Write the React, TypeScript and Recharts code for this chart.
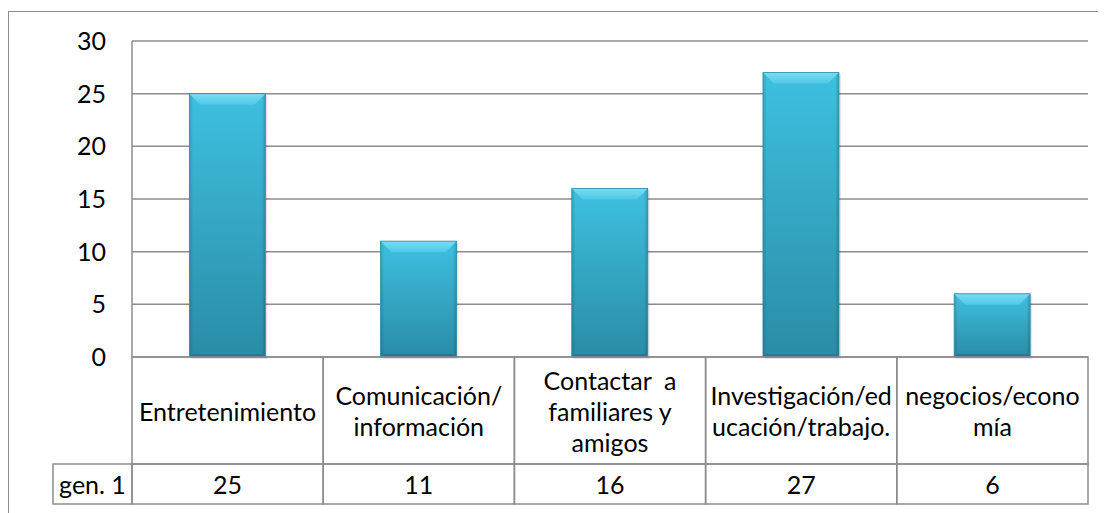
import { Bar, BarChart, CartesianGrid, XAxis, YAxis } from "recharts";

const categories = [
  "Entretenimiento",
  "Comunicación/\ninformación",
  "Contactar  a\nfamiliares y\namigos",
  "Investigación/ed\nucación/trabajo.",
  "negocios/econo\nmía",
];
const seriesName = "gen. 1";
const values = [25, 11, 16, 27, 6];
const yTicks = [0, 5, 10, 15, 20, 25, 30];

const W = 1097;
const H = 501;
const AXIS_H = 156;
const margin = { top: 29, right: 18, bottom: 0, left: 0 };
const Y_AXIS_W = 123;
const BAND = (W - margin.right - Y_AXIS_W) / categories.length;
const HEAD_H = 107;
const ROW_H = 40;
const LEGEND_W = 79;
const FONT = "Lato, Carlito, Calibri, sans-serif";
const FS = 25;
const LINE = "#8c8c8c";

const data = categories.map((name, i) => ({ name, value: values[i], index: i }));

function TableTick(props: any) {
  const { x, y, payload } = props;
  const idx = payload.index ?? 0;
  const left = x - BAND / 2;
  const lines = String(payload.value).split("\n");
  const lineGap = 31;
  const midY = y + HEAD_H / 2;
  const firstY = midY - ((lines.length - 1) * lineGap) / 2;
  return (
    <g>
      <rect x={left} y={y} width={BAND} height={HEAD_H} fill="none" stroke={LINE} strokeWidth={1.5} />
      <rect x={left} y={y + HEAD_H} width={BAND} height={ROW_H} fill="none" stroke={LINE} strokeWidth={1.5} />
      {lines.map((ln, i) => (
        <text
          key={i}
          x={x}
          y={firstY + i * lineGap}
          textAnchor="middle"
          dominantBaseline="central"
          fontFamily={FONT}
          fontSize={FS}
          fill="#000"
          style={{ whiteSpace: "pre" }}
        >
          {ln}
        </text>
      ))}
      <text
        x={x}
        y={y + HEAD_H + ROW_H / 2}
        textAnchor="middle"
        dominantBaseline="central"
        fontFamily={FONT}
        fontSize={FS}
        fill="#000"
      >
        {values[idx]}
      </text>
      {idx === 0 && (
        <g>
          <rect
            x={left - LEGEND_W}
            y={y + HEAD_H}
            width={LEGEND_W}
            height={ROW_H}
            fill="none"
            stroke={LINE}
            strokeWidth={1.5}
          />
          <text
            x={left - LEGEND_W / 2}
            y={y + HEAD_H + ROW_H / 2}
            textAnchor="middle"
            dominantBaseline="central"
            fontFamily={FONT}
            fontSize={FS}
            fill="#000"
          >
            {seriesName}
          </text>
        </g>
      )}
    </g>
  );
}

// bevelled bar like the Office 2007 style
function BevelBar(props: any) {
  const { x, y, width, height } = props;
  if (!height || height <= 0) return null;
  const b = Math.min(11, height / 3);
  const s = 3;
  return (
    <g>
      <defs>
        <linearGradient id="barBody" x1="0" x2="0" y1="0" y2="1">
          <stop offset="0%" stopColor="#3ec0e0" />
          <stop offset="100%" stopColor="#2a8ca6" />
        </linearGradient>
        <linearGradient id="barTop" x1="0" x2="0" y1="0" y2="1">
          <stop offset="0%" stopColor="#7bdcf2" />
          <stop offset="100%" stopColor="#4fc8e6" />
        </linearGradient>
        <linearGradient id="barSide" x1="0" x2="1" y1="0" y2="0">
          <stop offset="0%" stopColor="#000" stopOpacity={0.14} />
          <stop offset="5%" stopColor="#000" stopOpacity={0} />
          <stop offset="95%" stopColor="#000" stopOpacity={0} />
          <stop offset="100%" stopColor="#000" stopOpacity={0.18} />
        </linearGradient>
      </defs>
      <rect x={x + 2} y={y + 2} width={width} height={height} fill="#000" opacity={0.1} />
      <rect x={x} y={y} width={width} height={height} fill="url(#barBody)" />
      <rect x={x} y={y} width={width} height={height} fill="url(#barSide)" />
      <polygon
        points={`${x},${y} ${x + width},${y} ${x + width - b},${y + b} ${x + b},${y + b}`}
        fill="url(#barTop)"
      />
      <polygon
        points={`${x},${y + height} ${x + width},${y + height} ${x + width - s},${y + height - s} ${x + s},${y + height - s}`}
        fill="#237a91"
      />
      <rect x={x} y={y} width={width} height={height} fill="none" stroke="#2a8aa3" strokeWidth={0.8} />
    </g>
  );
}

export default function App() {
  return (
    <div
      style={{
        marginTop: 3,
        borderTop: `1.5px solid ${LINE}`,
        borderLeft: `1.5px solid ${LINE}`,
        width: 1100,
        height: 510,
        background: "#fff",
      }}
    >
      <BarChart width={W} height={H} data={data} margin={margin} barCategoryGap="30%">
        <CartesianGrid vertical={false} stroke={LINE} strokeWidth={1.5} />
        <XAxis
          dataKey="name"
          interval={0}
          axisLine={false}
          tickLine={false}
          tickSize={0}
          tickMargin={0}
          height={AXIS_H}
          tick={<TableTick />}
        />
        <YAxis
          width={Y_AXIS_W}
          domain={[0, 30]}
          ticks={yTicks}
          interval={0}
          axisLine={{ stroke: LINE, strokeWidth: 1.5 }}
          tickLine={false}
          tickSize={0}
          tickMargin={26}
          tick={{ fill: "#000", fontSize: FS, fontFamily: FONT }}
        />
        <Bar dataKey="value" isAnimationActive={false} shape={<BevelBar />} />
      </BarChart>
    </div>
  );
}
